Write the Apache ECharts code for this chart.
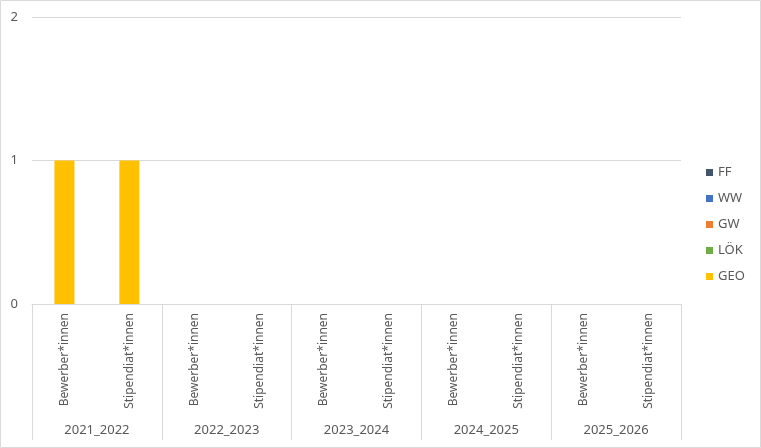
<!DOCTYPE html>
<html><head><meta charset="utf-8">
<script src="https://cdn.jsdelivr.net/npm/echarts@6/dist/echarts.min.js"></script>
<style>html,body{margin:0;padding:0;background:#fff}#c{width:761px;height:448px}</style>
</head><body><div id="c"></div>
<script>
var years = ['2021_2022','2022_2023','2023_2024','2024_2025','2025_2026'];
var roles = ['Bewerber*innen','Stipendiat*innen'];
var categories = [];
years.forEach(function(y){ roles.forEach(function(r){ categories.push(r); }); });
var seriesNames = ['FF','WW','GW','LÖK','GEO'];
var colors = {FF:'#44546A', WW:'#4472C4', GW:'#ED7D31', 'LÖK':'#70AD47', GEO:'#FFC000'};
var FF  = [0,0,0,0,0,0,0,0,0,0];
var WW  = [0,0,0,0,0,0,0,0,0,0];
var GW  = [0,0,0,0,0,0,0,0,0,0];
var LOK = [0,0,0,0,0,0,0,0,0,0];
var GEO = [1,1,0,0,0,0,0,0,0,0];
var dataMap = {FF:FF, WW:WW, GW:GW, 'LÖK':LOK, GEO:GEO};
var yTicks = {min:0, max:2, interval:1};

var font = 'Noto Sans';
var chart = echarts.init(document.getElementById('c'));
var stackOrder = ['GEO','LÖK','GW','WW','FF'];
chart.setOption({
  animation:false,
  textStyle:{fontFamily:font},
  graphic:[{type:'rect',shape:{x:0.5,y:0.5,width:760,height:447},style:{fill:'none',stroke:'#d9d9d9',lineWidth:1}}],
  grid:{left:32,right:80,top:17,bottom:144},
  legend:{orient:'vertical',left:701,top:161,itemWidth:7,itemHeight:7,itemGap:13,
    icon:'rect',data:seriesNames,textStyle:{color:'#595959',fontSize:13,fontFamily:font}},
  xAxis:[{type:'category',data:categories,position:'bottom',
      axisLine:{lineStyle:{color:'#d9d9d9'}},axisTick:{show:false},
      axisLabel:{rotate:90,interval:0,color:'#595959',fontSize:12,margin:9,fontFamily:font}},
    {type:'category',data:years,position:'bottom',offset:0,
      axisLine:{show:false},axisTick:{show:true,length:136,lineStyle:{color:'#d9d9d9'}},
      axisLabel:{interval:0,color:'#595959',fontSize:13,margin:120,fontFamily:font}}],
  yAxis:{type:'value',min:yTicks.min,max:yTicks.max,interval:yTicks.interval,
    axisLine:{show:false},axisTick:{show:false},
    splitLine:{lineStyle:{color:'#d9d9d9'}},
    axisLabel:{color:'#595959',fontSize:13,margin:14,fontFamily:font}},
  series:stackOrder.map(function(n){
    return {name:n,type:'bar',stack:'a',xAxisIndex:0,barWidth:20,data:dataMap[n],
      itemStyle:{color:colors[n]}};
  }),
  color:seriesNames.map(function(n){return colors[n];})
});
</script></body></html>
